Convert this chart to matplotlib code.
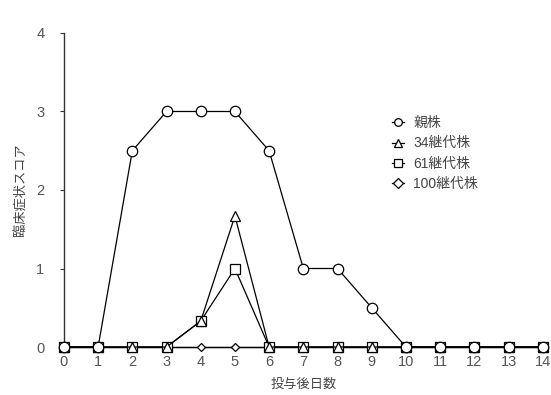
import matplotlib.pyplot as plt
from matplotlib.lines import Line2D

plt.rcParams['font.family'] = ['Liberation Sans', 'Noto Sans CJK JP']

days = list(range(15))
parent = [0, 0, 2.5, 3, 3, 3, 2.5, 1, 1, 0.5, 0, 0, 0, 0, 0]
p34 = [0, 0, 0, 0, 0.33, 1.67, 0, 0, 0, 0, 0, 0, 0, 0, 0]
p61 = [0, 0, 0, 0, 0.33, 1.0, 0, 0, 0, 0, 0, 0, 0, 0, 0]
p100 = [0] * 15
names = ['親株', '34継代株', '61継代株', '100継代株']

fig = plt.figure(figsize=(5.51, 3.95), dpi=100)
ax = fig.add_axes([0.116, 0.1215, 0.869, 0.795])

common = dict(color='black', lw=0.9, mfc='white', mec='black', mew=0.9, clip_on=False)
ax.plot(days, p100, marker='D', ms=4.5, zorder=3, **common)
ax.plot(days, p61, marker='s', ms=7, zorder=4, **common)
ax.plot(days, p34, marker='^', ms=7.5, zorder=5, **common)
ax.plot(days, parent, marker='o', ms=7.5, zorder=6, **common)

ax.set_xlim(0, 14)
ax.set_ylim(0, 4)
ax.set_xticks(days)
ax.set_yticks([0, 1, 2, 3, 4])
for s in ['top', 'right']:
    ax.spines[s].set_visible(False)
for s in ['left', 'bottom']:
    ax.spines[s].set_color('#333333')
    ax.spines[s].set_linewidth(1.0)
ax.tick_params(axis='x', length=0, pad=6, labelsize=10.5, labelcolor='#555555')
ax.tick_params(axis='y', length=3, pad=11, labelsize=10.5, labelcolor='#555555', color='#333333')

ax.set_xlabel('投与後日数', fontsize=9.5, color='#444444', labelpad=7)
ax.set_ylabel('臨床症状スコア', fontsize=9.5, color='#444444', labelpad=6)

# legend keys drawn a little smaller than the plotted markers
leg_style = dict(color='black', lw=0.9, mfc='white', mec='black', mew=0.9)
handles = [Line2D([], [], marker='o', ms=5.5, **leg_style),
           Line2D([], [], marker='^', ms=6, **leg_style),
           Line2D([], [], marker='s', ms=5.5, **leg_style),
           Line2D([], [], marker='D', ms=5.5, **leg_style)]
ax.legend(handles, names, loc='upper left',
          bbox_to_anchor=(0.66, 0.775), frameon=False, fontsize=10,
          handlelength=0.8, handletextpad=0.7, labelspacing=0.45,
          labelcolor='#444444')

fig.savefig('out.png', dpi=100)
